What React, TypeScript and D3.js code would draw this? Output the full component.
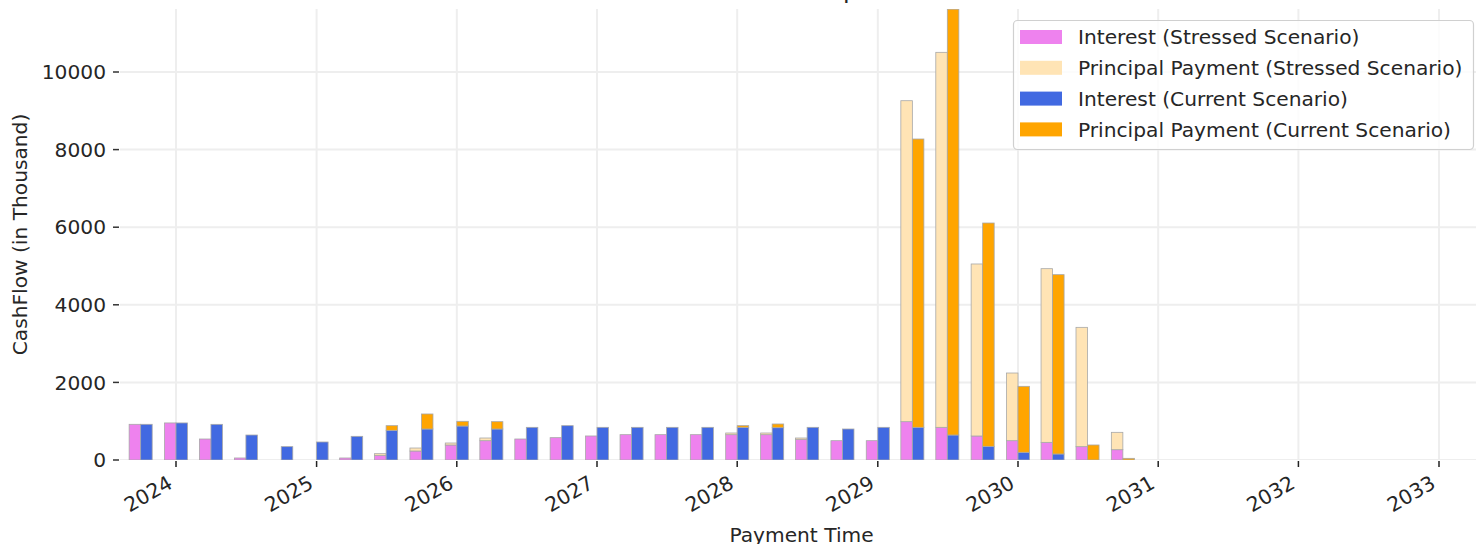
import React from 'react';
import * as d3 from 'd3';

// quarterly payment dates
const paymentDates = [
  '2023-10-01', '2024-01-01', '2024-04-01', '2024-07-01', '2024-10-01',
  '2025-01-01', '2025-04-01', '2025-07-01', '2025-10-01', '2026-01-01',
  '2026-04-01', '2026-07-01', '2026-10-01', '2027-01-01', '2027-04-01',
  '2027-07-01', '2027-10-01', '2028-01-01', '2028-04-01', '2028-07-01',
  '2028-10-01', '2029-01-01', '2029-04-01', '2029-07-01', '2029-10-01',
  '2030-01-01', '2030-04-01', '2030-07-01', '2030-10-01'
];

const interestStressed = [
  920, 955, 541, 52, 0, 0, 52, 120, 232, 387, 498, 541, 576, 619, 653,
  653, 653, 653, 653, 533, 498, 498, 988, 842, 619, 498, 455, 344, 266
];
const principalStressed = [
  0, 0, 0, 0, 0, 0, 0, 43, 77, 51, 69, 0, 0, 0, 0,
  0, 0, 43, 43, 34, 0, 0, 8272, 9665, 4433, 1744, 4476, 3075, 447
];
const interestCurrent = [
  920, 955, 919, 644, 344, 464, 610, 765, 799, 876, 799, 842, 885, 842, 842,
  842, 842, 842, 833, 842, 799, 842, 842, 644, 352, 198, 155, 0, 0
];
const principalCurrent = [
  0, 0, 0, 0, 0, 0, 0, 120, 387, 121, 189, 0, 0, 0, 0,
  0, 0, 43, 95, 0, 0, 0, 7431, 10976, 5756, 1701, 4622, 387, 43
];

const yearTicks = [2024, 2025, 2026, 2027, 2028, 2029, 2030, 2031, 2032, 2033];
const yTicks = [0, 2000, 4000, 6000, 8000, 10000];

const legendItems = [
  { label: 'Interest (Stressed Scenario)', color: 'violet' },
  { label: 'Principal Payment (Stressed Scenario)', color: 'moccasin' },
  { label: 'Interest (Current Scenario)', color: 'royalblue' },
  { label: 'Principal Payment (Current Scenario)', color: 'orange' }
];

const W = 1476;
const H = 544;
const plot = { left: 120, right: 1483, top: 9, bottom: 460 };
const FONT = '"DejaVu Sans", sans-serif';
const TEXT = '#262626';
const FS = 20.2;
const DAY = 86400000;

export default function App() {
  const x = d3.scaleUtc()
    .domain([Date.UTC(2024, 0, 1), Date.UTC(2033, 0, 1)])
    .range([176, 1439]);
  const y = d3.scaleLinear().domain([0, 10000]).range([460, 72]);

  const bars: { x0: number; x1: number; lo: number; hi: number; color: string }[] = [];
  paymentDates.forEach((s, i) => {
    const t = new Date(s + 'T00:00:00Z').getTime();
    const xs0 = x(t - 30 * DAY), xs1 = x(t);
    const xc0 = x(t), xc1 = x(t + 30 * DAY);
    const si = interestStressed[i], sp = principalStressed[i];
    const ci = interestCurrent[i], cp = principalCurrent[i];
    if (si > 0) bars.push({ x0: xs0, x1: xs1, lo: 0, hi: si, color: 'violet' });
    if (sp > 0) bars.push({ x0: xs0, x1: xs1, lo: si, hi: si + sp, color: 'moccasin' });
    if (ci > 0) bars.push({ x0: xc0, x1: xc1, lo: 0, hi: ci, color: 'royalblue' });
    if (cp > 0) bars.push({ x0: xc0, x1: xc1, lo: ci, hi: ci + cp, color: 'orange' });
  });

  const midX = (plot.left + plot.right) / 2;
  const midY = (plot.top + plot.bottom) / 2;

  return (
    <svg width={W} height={H} style={{ position: 'absolute', left: 0, top: 0, background: '#fff' }}
      fontFamily={FONT}>
      <defs>
        <clipPath id="plotClip">
          <rect x={plot.left} y={plot.top} width={plot.right - plot.left} height={plot.bottom - plot.top} />
        </clipPath>
      </defs>
      <rect x={0} y={0} width={W} height={H} fill="#fff" />

      {/* grid */}
      <g clipPath="url(#plotClip)" stroke="#eeeeee" strokeWidth={2}>
        {yTicks.map(v => (
          <line key={'gy' + v} x1={plot.left} x2={plot.right} y1={y(v)} y2={y(v)} />
        ))}
        {yearTicks.map(yr => {
          const px = x(Date.UTC(yr, 0, 1));
          return <line key={'gx' + yr} x1={px} x2={px} y1={plot.top} y2={plot.bottom} />;
        })}
      </g>

      {/* bars */}
      <g clipPath="url(#plotClip)">
        {bars.map((b, i) => (
          <rect key={i} x={b.x0} y={y(b.hi)} width={b.x1 - b.x0} height={y(b.lo) - y(b.hi)}
            fill={b.color} stroke="#a8a8a8" strokeWidth={0.8} />
        ))}
      </g>

      {/* y axis */}
      {yTicks.map(v => (
        <g key={'yt' + v}>
          <line x1={plot.left - 7} x2={plot.left - 1} y1={y(v)} y2={y(v)} stroke="#333" strokeWidth={1.5} />
          <text x={106} y={y(v)} dy="0.36em" textAnchor="end" fontSize={FS} fill={TEXT}>{v}</text>
        </g>
      ))}

      {/* x axis */}
      {yearTicks.map(yr => {
        const px = x(Date.UTC(yr, 0, 1));
        return (
          <g key={'xt' + yr}>
            <line x1={px} x2={px} y1={plot.bottom + 1} y2={plot.bottom + 7} stroke="#222" strokeWidth={1.5} />
            <text transform={`translate(${px - 2},${487}) rotate(-30)`} textAnchor="end"
              fontSize={FS} fill={TEXT}>{yr}</text>
          </g>
        );
      })}

      {/* labels */}
      <text x={midX} y={542} textAnchor="middle" fontSize={FS} fill={TEXT}>Payment Time</text>
      <text transform={`translate(27,${midY}) rotate(-90)`} textAnchor="middle" fontSize={FS} fill={TEXT}>
        CashFlow (in Thousand)
      </text>
      <text x={midX} y={-2} textAnchor="middle" fontSize={24.3} fill={TEXT}>Cashflow Comparison</text>

      {/* legend */}
      <g>
        <rect x={1013.5} y={20.5} width={460} height={129} rx={4} fill="#fff" fillOpacity={0.8}
          stroke="#d0d0d0" strokeWidth={1.2} />
        {legendItems.map((it, i) => {
          const cy = 37 + i * 30.8;
          return (
            <g key={it.label}>
              <rect x={1020} y={cy - 7} width={42} height={14} fill={it.color} />
              <text x={1078} y={cy} dy="0.36em" fontSize={FS} fill={TEXT}>{it.label}</text>
            </g>
          );
        })}
      </g>
    </svg>
  );
}
